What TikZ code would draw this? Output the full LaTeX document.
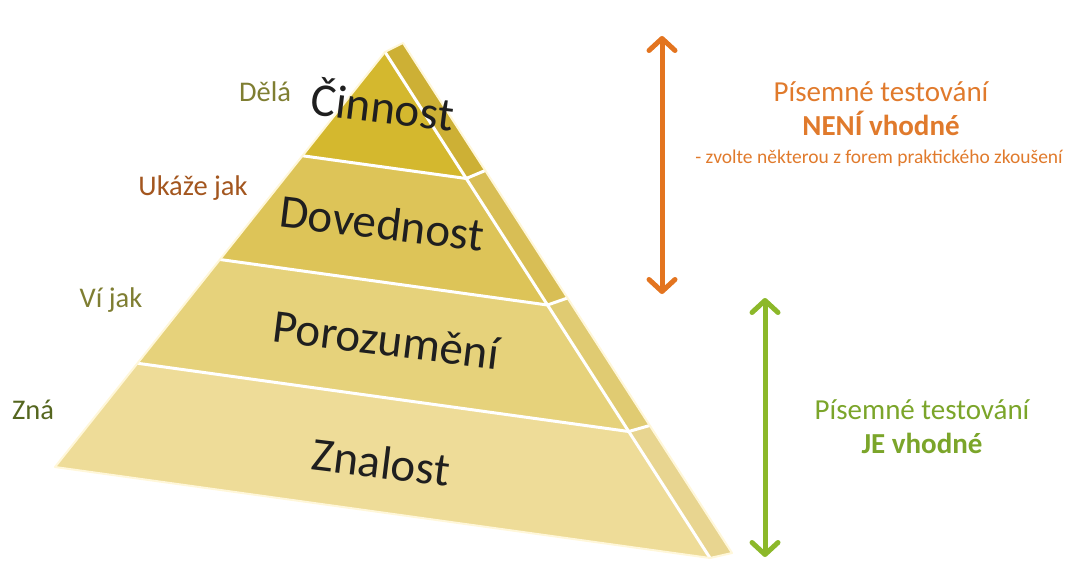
\documentclass[tikz,border=0pt]{standalone}
\usepackage{fontspec}
\setmainfont{Carlito}
\usetikzlibrary{arrows.meta, calc}

\definecolor{layA}{HTML}{D4B82E}
\definecolor{layB}{HTML}{DDC458}
\definecolor{layC}{HTML}{E6D27B}
\definecolor{layD}{HTML}{EEDC98}
\definecolor{sideA}{HTML}{CDB035}
\definecolor{sideB}{HTML}{D8BE55}
\definecolor{sideC}{HTML}{E0CB72}
\definecolor{sideD}{HTML}{E8D590}
\definecolor{rim}{HTML}{FFF7DA}
\definecolor{orng}{HTML}{E3741F}
\definecolor{orngtxt}{HTML}{E07A2C}
\definecolor{lime}{HTML}{8CB82A}
\definecolor{limetxt}{HTML}{7BA52A}
\definecolor{olive}{HTML}{7F7E32}
\definecolor{rust}{HTML}{A3561F}
\definecolor{moss}{HTML}{55661F}

\begin{document}
\begin{tikzpicture}[x=1pt, y=-1pt,
    level/.style={font=\fontsize{47}{47}\selectfont, text=black!88, rotate=-7},
    hint/.style={font=\fontsize{28.5}{28.5}\selectfont},
    verdict/.style={font=\fontsize{29}{34}\selectfont, align=center},
    span/.style={<->, line width=5pt, >={Straight Barb[length=12pt, width=26pt, round]}}]
    \useasboundingbox (0,0) rectangle (1075,565);
    % corners of the pyramid
    \coordinate (A) at (385,52);
    \coordinate (BL) at (55,467);
    \coordinate (BR) at (710,558);
    \coordinate (S) at (403,43);
    \coordinate (SB) at (732,553);
    % layers, front and side
    \foreach \a/\b/\c/\d in {0/0.25/layA/sideA, 0.25/0.5/layB/sideB, 0.5/0.75/layC/sideC, 0.75/1/layD/sideD} {
        \fill[\c] ($(A)!\a!(BL)$) -- ($(A)!\b!(BL)$) -- ($(A)!\b!(BR)$) -- ($(A)!\a!(BR)$) -- cycle;
        \fill[\d] ($(A)!\a!(BR)$) -- ($(A)!\b!(BR)$) -- ($(S)!\b!(SB)$) -- ($(S)!\a!(SB)$) -- cycle;
    }
    \foreach \a in {0.25, 0.5, 0.75}
        \draw[white, line width=3pt] ($(A)!\a!(BL)$) -- ($(A)!\a!(BR)$) -- ($(S)!\a!(SB)$);
    \draw[white, line width=3pt] (A) -- (BR);
    \draw[rim, line width=2pt, line join=round] (A) -- (BL) -- (BR) -- (SB) -- (S) -- cycle;

    \node[level] (act) at (383,104) {Činnost};
    \node[level] (skill) at (382,223) {Dovednost};
    \node[level] (grasp) at (386,340) {Porozumění};
    \node[level] (know) at (381,462) {Znalost};

    \node[hint, text=olive] (does) at (265,92) {Dělá};
    \node[hint, text=rust] (shows) at (193,188) {Ukáže jak};
    \node[hint, text=olive] (knowshow) at (111,300) {Ví jak};
    \node[hint, text=moss] (knows) at (33,410) {Zná};

    \coordinate (o1) at (662,36);
    \coordinate (o2) at (662,294);
    \draw[span, orng] (o1) -- (o2);
    \coordinate (g1) at (765,298);
    \coordinate (g2) at (765,557);
    \draw[span, lime] (g1) -- (g2);

    \node[verdict, text=orngtxt] (no) at (881,109) {Písemné testování\\\textbf{NENÍ vhodné}};
    \node[font=\fontsize{19.5}{19.5}\selectfont, text=orngtxt] (alt) at (879,158) {- zvolte některou z forem praktického zkoušení};
    \node[verdict, text=limetxt] (yes) at (922,427) {Písemné testování\\\textbf{JE vhodné}};
\end{tikzpicture}
\end{document}
